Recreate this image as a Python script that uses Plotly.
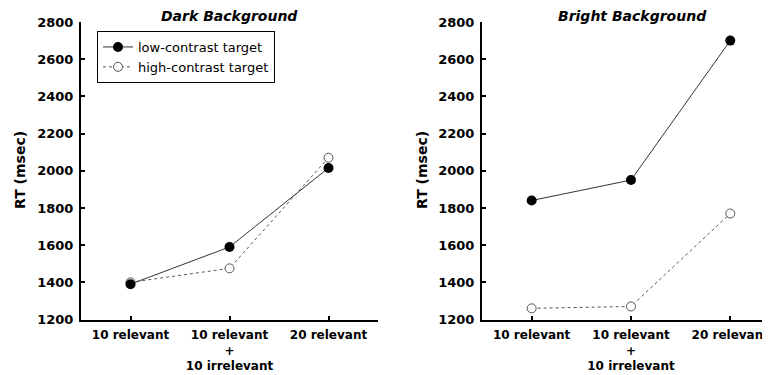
import plotly.graph_objects as go

categories = ["10 relevant", "10 relevant<br>+<br>10 irrelevant", "20 relevant"]
x_pos = [0, 1, 2]

dark_low = [1390, 1590, 2015]
dark_high = [1400, 1475, 2070]
bright_low = [1840, 1950, 2700]
bright_high = [1260, 1270, 1770]

y_ticks = [1200, 1400, 1600, 1800, 2000, 2200, 2400, 2600, 2800]
panel_titles = ["Dark Background", "Bright Background"]
y_title = "RT (msec)"
series_names = ["low-contrast target", "high-contrast target"]

# the page body has an 8px margin, so the figure is drawn 8px in from the corner
OFF = 8
W, H = 770 - OFF, 375 - OFF
FONT = "DejaVu Sans"

def px(sx):
    return (sx - OFF) / W

def py(sy):
    return 1 - (sy - OFF) / H

fig = go.Figure()

def add_panel(low, high, xa, ya, show_legend):
    fig.add_trace(go.Scatter(
        x=x_pos, y=high, xaxis=xa, yaxis=ya, mode="lines+markers",
        name=series_names[1], showlegend=show_legend, legendrank=2,
        line=dict(color="#555555", width=1, dash="dot"),
        marker=dict(symbol="circle", size=9, color="white",
                    line=dict(color="#555555", width=1)),
    ))
    fig.add_trace(go.Scatter(
        x=x_pos, y=low, xaxis=xa, yaxis=ya, mode="lines+markers",
        name=series_names[0], showlegend=show_legend, legendrank=1,
        line=dict(color="#333333", width=1),
        marker=dict(symbol="circle", size=10, color="black"),
    ))

add_panel(dark_low, dark_high, "x", "y", True)
add_panel(bright_low, bright_high, "x2", "y2", False)

y_dom = [py(319.5), py(22)]

xcommon = dict(
    tickmode="array", tickvals=x_pos, ticktext=categories,
    ticks="inside", ticklen=4, tickwidth=2, tickcolor="black",
    showline=True, linewidth=2, linecolor="black",
    showgrid=False, zeroline=False, automargin=False,
    ticklabelstandoff=3,
    tickfont=dict(family=FONT, size=12, color="black", weight="bold"),
)
ycommon = dict(
    range=[1200, 2800], tickmode="array", tickvals=y_ticks,
    ticks="inside", ticklen=4, tickwidth=2, tickcolor="black",
    showline=True, linewidth=2, linecolor="black",
    showgrid=False, zeroline=False, automargin=False,
    ticklabelstandoff=3,
    tickfont=dict(family=FONT, size=13, color="black", weight="bold"),
    domain=y_dom,
)

fig.update_layout(
    width=W, height=H,
    margin=dict(l=0, r=0, t=0, b=0, autoexpand=False),
    paper_bgcolor="white", plot_bgcolor="white",
    xaxis=dict(domain=[px(81), px(378)], range=[-0.5, 2.5], anchor="y", **xcommon),
    yaxis=dict(anchor="x", **ycommon),
    xaxis2=dict(domain=[px(482), 1.0], range=[-0.5, 2.4], anchor="y2", **xcommon),
    yaxis2=dict(anchor="x2", **ycommon),
    legend=dict(
        x=px(97), y=py(31), xanchor="left", yanchor="top",
        bordercolor="black", borderwidth=1, bgcolor="white",
        font=dict(family=FONT, size=13, color="black"),
        itemwidth=30,
    ),
    showlegend=True,
)

# panel titles
for cx, t in [(229, panel_titles[0]), (632, panel_titles[1])]:
    fig.add_annotation(
        x=px(cx), y=py(16), xref="paper", yref="paper",
        text=t, showarrow=False, xanchor="center", yanchor="middle",
        font=dict(family=FONT, size=14, color="black", weight="bold", style="italic"),
    )

# y-axis titles
for cx in [20, 422]:
    fig.add_annotation(
        x=px(cx), y=py(170), xref="paper", yref="paper",
        text=y_title, showarrow=False, textangle=-90,
        xanchor="center", yanchor="middle",
        font=dict(family=FONT, size=14, color="black", weight="bold"),
    )

fig.write_html("out.html")
